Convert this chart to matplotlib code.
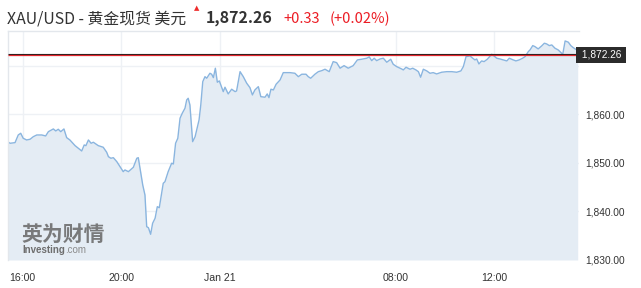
import matplotlib
matplotlib.use("Agg")
import matplotlib.pyplot as plt
from matplotlib.transforms import blended_transform_factory, ScaledTranslation

# ---- data (trading hours since 16:00, price) ----
hours = [-0.61, -0.51, -0.31, -0.18, -0.08, 0.02, 0.16, 0.30, 0.43, 0.57, 0.77, 0.93, 1.04, 1.24, 1.34,
         1.44, 1.54, 1.67, 1.78, 1.91, 2.12, 2.25, 2.39, 2.49, 2.56, 2.66, 2.77, 2.86, 3.06, 3.26,
         3.40, 3.47, 3.57, 3.67, 3.81, 3.94, 4.07, 4.14, 4.28, 4.48, 4.62, 4.68, 4.75, 4.86, 4.95,
         5.02, 5.09, 5.18, 5.26, 5.36, 5.45, 5.53, 5.69, 5.76, 5.89, 6.03, 6.10, 6.19, 6.28, 6.37,
         6.46, 6.57, 6.64, 6.70, 6.77, 6.88, 6.98, 7.14, 7.21, 7.29, 7.38, 7.45, 7.58, 7.65, 7.72,
         7.80, 7.88, 7.96, 8.12, 8.19, 8.32, 8.46, 8.60, 8.66, 8.80, 8.93, 9.07, 9.20, 9.30, 9.40,
         9.54, 9.64, 9.81, 9.90, 9.97, 10.05, 10.15, 10.26, 10.42, 10.55, 10.82, 11.02, 11.16, 11.30, 11.47,
         11.56, 11.66, 11.83, 11.97, 12.11, 12.24, 12.41, 12.57, 12.71, 12.85, 13.01, 13.18, 13.38, 13.55, 13.72,
         13.93, 14.03, 14.13, 14.23, 14.33, 14.47, 14.60, 14.74, 14.90, 15.00, 15.14, 15.34, 15.41, 15.52, 15.68,
         15.79, 15.92, 16.02, 16.11, 16.22, 16.36, 16.49, 16.62, 16.76, 16.96, 17.17, 17.37, 17.57, 17.74, 17.84,
         17.95, 18.11, 18.22, 18.31, 18.38, 18.47, 18.58, 18.68, 18.81, 18.99, 19.08, 19.19, 19.32, 19.46, 19.60,
         19.70, 19.86, 19.97, 20.10, 20.24, 20.34, 20.40, 20.47, 20.54, 20.65, 20.74, 20.87, 21.01, 21.12, 21.21,
         21.32, 21.42, 21.55, 21.68, 21.82, 21.86, 21.92, 21.96, 22.09, 22.19, 22.29, 22.43, 22.47]
prices = [1854.39, 1854.06, 1854.19, 1855.77, 1856.12, 1855.09, 1854.74, 1854.89, 1855.42, 1855.77, 1855.77, 1855.57, 1856.45, 1857.01, 1856.60,
          1856.95, 1856.45, 1857.01, 1855.22, 1854.74, 1853.57, 1853.03, 1852.47, 1853.71, 1853.57, 1854.74, 1854.06, 1854.27, 1853.57, 1853.24,
          1852.21, 1851.30, 1850.97, 1851.09, 1850.27, 1849.24, 1848.21, 1848.56, 1848.21, 1849.11, 1850.97, 1851.09, 1848.91, 1845.46, 1843.40,
          1836.87, 1836.66, 1835.30, 1837.57, 1838.60, 1840.99, 1840.78, 1845.81, 1846.14, 1848.21, 1849.94, 1849.79, 1854.06, 1855.09, 1859.22,
          1860.25, 1861.28, 1862.99, 1863.34, 1861.96, 1854.39, 1855.42, 1858.87, 1861.96, 1866.76, 1867.79, 1867.46, 1868.49, 1868.29, 1867.59,
          1869.53, 1866.64, 1866.91, 1864.70, 1865.61, 1864.23, 1865.20, 1864.70, 1864.85, 1868.82, 1867.79, 1866.43, 1865.53, 1864.02, 1865.05,
          1865.73, 1863.67, 1863.55, 1864.23, 1863.46, 1865.20, 1865.05, 1866.23, 1867.11, 1868.62, 1868.62, 1868.49, 1867.79, 1868.29, 1868.29,
          1867.79, 1867.46, 1868.29, 1868.82, 1869.03, 1869.32, 1868.82, 1870.89, 1870.68, 1869.53, 1870.06, 1869.53, 1870.06, 1871.24, 1871.38,
          1871.59, 1871.86, 1871.09, 1871.59, 1871.09, 1871.44, 1871.59, 1870.76, 1871.38, 1870.35, 1869.86, 1869.38, 1869.18, 1869.73, 1869.32,
          1869.53, 1869.18, 1868.82, 1867.67, 1869.32, 1868.97, 1868.49, 1868.62, 1868.35, 1868.70, 1868.82, 1868.82, 1868.70, 1868.97, 1869.86,
          1871.92, 1872.06, 1871.59, 1871.24, 1871.44, 1870.41, 1871.03, 1870.89, 1871.38, 1872.41, 1872.06, 1871.59, 1871.44, 1871.24, 1871.03,
          1871.59, 1871.24, 1871.03, 1871.24, 1871.59, 1871.92, 1872.41, 1872.95, 1873.30, 1874.19, 1873.98, 1873.51, 1874.12, 1874.68, 1874.54,
          1874.19, 1874.33, 1873.65, 1873.30, 1872.62, 1872.27, 1873.98, 1875.15, 1874.89, 1874.19, 1873.77, 1873.30, 1873.15]

x_tick_pos = [0, 4, 8, 15.1, 19.1]
x_tick_labels = ["16:00", "20:00", "Jan 21", "08:00", "12:00"]
y_grid = [1840, 1850, 1860, 1870]
y_ticks = [1830, 1840, 1850, 1860]
last_price = 1872.26
change = "+0.33"
change_pct = "(+0.02%)"
title = "XAU/USD - 黄金现货 美元"

YMIN, YMAX = 1830, 1877.2
XMIN, XMAX = -0.595, 22.51

W, H = 641, 288
fig = plt.figure(figsize=(W / 100, H / 100), dpi=100)
fig.patch.set_facecolor("white")
ax = fig.add_axes([8 / W, 1 - 260 / H, (578.7 - 8) / W, (260 - 31) / H])
ax.set_facecolor("white")

ax.set_xlim(XMIN, XMAX)
ax.set_ylim(YMIN, YMAX)

# grid
for t in x_tick_pos:
    ax.axvline(t, color="#eef1f5", lw=1, zorder=0)
for t in y_grid:
    ax.axhline(t, color="#eef1f5", lw=1, zorder=0)

ax.fill_between(hours, prices, YMIN, color="#e4ecf4", lw=0, zorder=1)
ax.plot(hours, prices, color="#8ab5df", lw=1.0, zorder=2)

# current price line: red line with a thin dark line directly above it
trans = blended_transform_factory(ax.transAxes, ax.transData)
ax.plot([0, 1], [last_price, last_price], transform=trans + ScaledTranslation(0, 1.3 / 100, fig.dpi_scale_trans),
        color="#1e1e1e", lw=0.8, zorder=3, solid_capstyle="butt")
ax.plot([0, 1], [last_price, last_price], transform=trans,
        color="#e0262c", lw=0.9, zorder=3, solid_capstyle="butt")

ax.text(1.0, last_price, " 1,872.26 ", transform=trans, ha="left", va="center",
        color="white", fontsize=7.3, family="Liberation Sans",
        bbox=dict(boxstyle="square,pad=0.25", fc="#2b2b2b", ec="none"), zorder=5)

for s in ["top", "left"]:
    ax.spines[s].set_color("#e3e7ec")
    ax.spines[s].set_linewidth(1)
for s in ["bottom", "right"]:
    ax.spines[s].set_visible(False)

ax.set_xticks(x_tick_pos)
ax.set_xticklabels(x_tick_labels)
ax.set_yticks(y_ticks)
ax.set_yticklabels([f"{v:,.2f}" for v in y_ticks])
ax.yaxis.tick_right()
ax.tick_params(axis="y", length=0, pad=4.5, labelsize=7.3, labelcolor="#333333")
ax.tick_params(axis="x", length=0, pad=9.5, labelsize=7.6, labelcolor="#333333")
for lab in ax.get_xticklabels() + ax.get_yticklabels():
    lab.set_family("Liberation Sans")

# header
cjk = ["Noto Sans CJK SC", "DejaVu Sans"]
fig.text(7 / W, 1 - 23 / H, title, fontsize=11.4, color="#333333", family=cjk, va="baseline")
fig.text(197 / W, 1 - 8 / H, "▲", fontsize=5, color="#ee2b2b", family="DejaVu Sans",
         ha="center", va="center")
fig.text(206 / W, 1 - 23 / H, f"{last_price:,.2f}", fontsize=11.5, color="#333333",
         family=cjk, weight="bold", va="baseline")
fig.text(283 / W, 1 - 23 / H, change, fontsize=10.5, color="#ec1c24", family=cjk, va="baseline")
fig.text(330 / W, 1 - 23 / H, change_pct, fontsize=10.6, color="#ec1c24", family=cjk, va="baseline")

# watermark
fig.text(21 / W, 1 - 241 / H, "英为财情", fontsize=15, color="#6e6e6e", family=cjk,
         weight="bold", va="baseline", alpha=0.9)
fig.text(22 / W, 1 - 253 / H, "Investing", fontsize=7.0, color="#6e6e6e",
         family="Liberation Sans", weight="bold", va="baseline")
fig.text(65.5 / W, 1 - 253 / H, ".com", fontsize=7.0, color="#8a8a8a",
         family="Liberation Sans", va="baseline")

fig.savefig("out.png", dpi=100, facecolor="white")
